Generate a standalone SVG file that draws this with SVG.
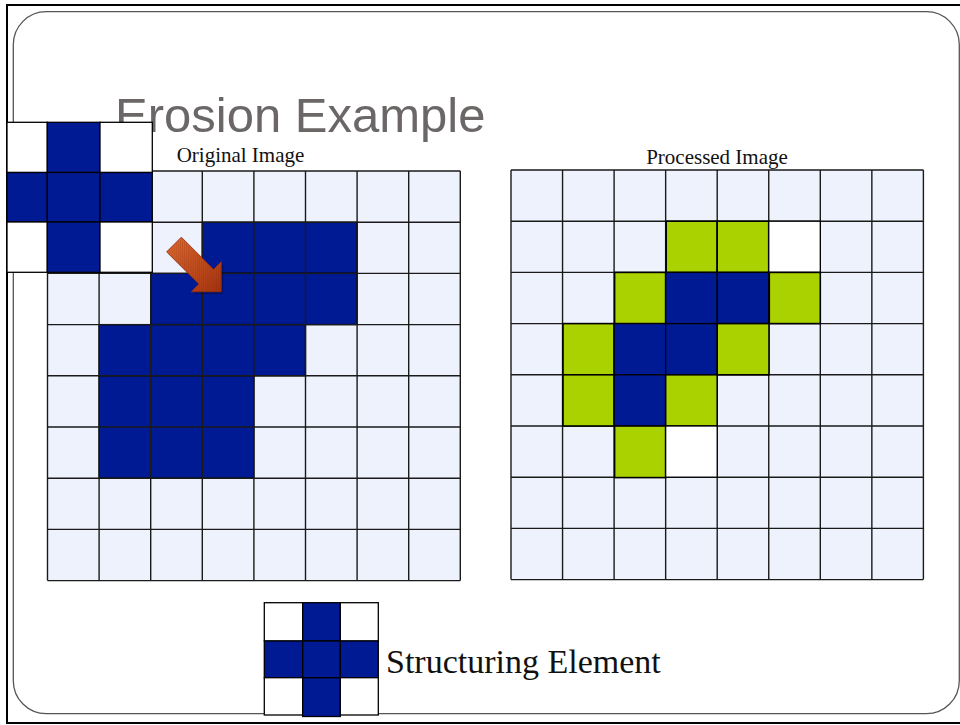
<svg xmlns="http://www.w3.org/2000/svg" width="960" height="725" viewBox="0 0 960 725">
<style>
.lt{fill:#EEF2FD;stroke:none}
.bl{fill:#001A94;stroke:#000;stroke-width:1.3}
.gr{fill:#AAD200;stroke:#000;stroke-width:1.6}
.wh{fill:#FFFFFF;stroke:#000;stroke-width:1.3}
.grid{fill:none;stroke:#1a1a1a;stroke-width:1.4}
.serif{font-family:"Liberation Serif","Times New Roman",serif;fill:#111}
</style>
<defs>
<linearGradient id="ag" x1="0" y1="0" x2="1" y2="0">
<stop offset="0" stop-color="#D8662C"/>
<stop offset="1" stop-color="#A4310F"/>
</linearGradient>
<pattern id="hatch" width="3" height="3" patternUnits="userSpaceOnUse">
<path d="M0,0 L3,3" stroke="#8A2A0C" stroke-width="0.6" opacity="0.6"/>
</pattern>
</defs>
<rect width="960" height="725" fill="#FFFFFF"/>
<g id="frame">
<rect x="7" y="5" width="960" height="718" fill="none" stroke="#000" stroke-width="2"/>
<rect x="13.3" y="11.7" width="946" height="702" rx="33" ry="33" fill="none" stroke="#555" stroke-width="1.3"/>
</g>
<g id="title">
<text x="115" y="132" font-family="Liberation Sans, Arial, sans-serif" font-size="49" fill="#6B6767">Erosion Example</text>
</g>
<g id="original-image">
<text class="serif" x="240.5" y="162" font-size="21" text-anchor="middle">Original Image</text>
<rect class="lt" x="47.5" y="171" width="412.8" height="409.6"/>
<rect class="bl" x="202.3" y="222.2" width="154.8" height="51.2"/>
<rect class="bl" x="150.7" y="273.4" width="206.4" height="51.2"/>
<rect class="bl" x="99.1" y="324.6" width="206.4" height="51.2"/>
<rect class="bl" x="99.1" y="375.8" width="154.8" height="102.4"/>
<path class="grid" d="M47.5,171V580.6M99.1,171V580.6M150.7,171V580.6M202.3,171V580.6M253.9,171V580.6M305.5,171V580.6M357.1,171V580.6M408.7,171V580.6M460.3,171V580.6M47.5,171H460.3M47.5,222.2H460.3M47.5,273.4H460.3M47.5,324.6H460.3M47.5,375.8H460.3M47.5,427H460.3M47.5,478.2H460.3M47.5,529.4H460.3M47.5,580.6H460.3"/>
</g>
<g id="processed-image">
<text class="serif" x="717" y="164" font-size="21" text-anchor="middle">Processed Image</text>
<rect class="lt" x="511" y="170" width="412.4" height="409.6"/>
<path class="grid" d="M511,170V579.6M562.55,170V579.6M614.1,170V579.6M665.65,170V579.6M717.2,170V579.6M768.75,170V579.6M820.3,170V579.6M871.85,170V579.6M923.4,170V579.6M511,170H923.4M511,221.2H923.4M511,272.4H923.4M511,323.6H923.4M511,374.8H923.4M511,426H923.4M511,477.2H923.4M511,528.4H923.4M511,579.6H923.4"/>
<rect class="gr" x="666.2" y="221.2" width="51" height="51.2"/>
<rect class="gr" x="717.2" y="221.2" width="51.5" height="51.2"/>
<rect class="wh" x="768.75" y="221.2" width="51.55" height="51.2"/>
<rect class="gr" x="614.6" y="272.4" width="51" height="51.2"/>
<rect class="bl" x="665.65" y="272.4" width="51.55" height="51.2"/>
<rect class="bl" x="717.2" y="272.4" width="51.55" height="51.2"/>
<rect class="gr" x="769.3" y="272.4" width="51" height="51.2"/>
<rect class="gr" x="563" y="323.6" width="51.1" height="51.2"/>
<rect class="bl" x="614.1" y="323.6" width="51.55" height="51.2"/>
<rect class="bl" x="665.65" y="323.6" width="51.55" height="51.2"/>
<rect class="gr" x="717.2" y="323.6" width="51.8" height="51.2"/>
<rect class="gr" x="563" y="374.8" width="51.1" height="51.2"/>
<rect class="bl" x="614.1" y="374.8" width="51.55" height="51.2"/>
<rect class="gr" x="665.65" y="374.8" width="51.55" height="51.2"/>
<rect class="gr" x="614.6" y="426" width="51" height="51.6"/>
<rect class="wh" x="665.65" y="426" width="51.55" height="51.2"/>
</g>
<g id="arrow">
<path transform="translate(176,247) rotate(45)" d="M0,-10.4 L45.6,-10.4 L45.6,-21.2 L66.8,0 L45.6,21.2 L45.6,10.4 L0,10.4 Z" fill="#000" opacity="0.25"/>
<path transform="translate(174,244.5) rotate(45)" d="M0,-10.4 L45.6,-10.4 L45.6,-21.2 L66.8,0 L45.6,21.2 L45.6,10.4 L0,10.4 Z" fill="url(#ag)" stroke="#9A2C0E" stroke-width="0.8"/>
<path transform="translate(174,244.5) rotate(45)" d="M0,-10.4 L45.6,-10.4 L45.6,-21.2 L66.8,0 L45.6,21.2 L45.6,10.4 L0,10.4 Z" fill="url(#hatch)"/>
</g>
<g id="se-overlay">
<rect class="wh" x="7" y="122.3" width="40.3" height="50.2"/>
<rect class="bl" x="47.3" y="122.3" width="52.7" height="50.2"/>
<rect class="wh" x="100" y="122.3" width="52.3" height="50.2"/>
<rect class="bl" x="7" y="172.5" width="40.3" height="49.5"/>
<rect class="bl" x="47.3" y="172.5" width="52.7" height="49.5"/>
<rect class="bl" x="100" y="172.5" width="52.3" height="49.5"/>
<rect class="wh" x="7" y="222" width="40.3" height="50.3"/>
<rect class="bl" x="47.3" y="222" width="52.7" height="50.3"/>
<rect class="wh" x="100" y="222" width="52.3" height="50.3"/>
</g>
<g id="structuring-element">
<rect class="wh" x="264.3" y="602.7" width="38.4" height="38.3" stroke="#444"/>
<rect class="bl" x="302.7" y="602.7" width="37.6" height="38.3"/>
<rect class="wh" x="340.3" y="602.7" width="38" height="38.3" stroke="#444"/>
<rect class="bl" x="264.3" y="641" width="38.4" height="36.7"/>
<rect class="bl" x="302.7" y="641" width="37.6" height="36.7"/>
<rect class="bl" x="340.3" y="641" width="38" height="36.7"/>
<rect class="wh" x="264.3" y="677.7" width="38.4" height="37.3" stroke="#444"/>
<rect class="bl" x="302.7" y="677.7" width="37.6" height="38.8"/>
<rect class="wh" x="340.3" y="677.7" width="38" height="37.3" stroke="#444"/>
<text class="serif" x="386" y="672.5" font-size="34">Structuring Element</text>
</g>
</svg>
